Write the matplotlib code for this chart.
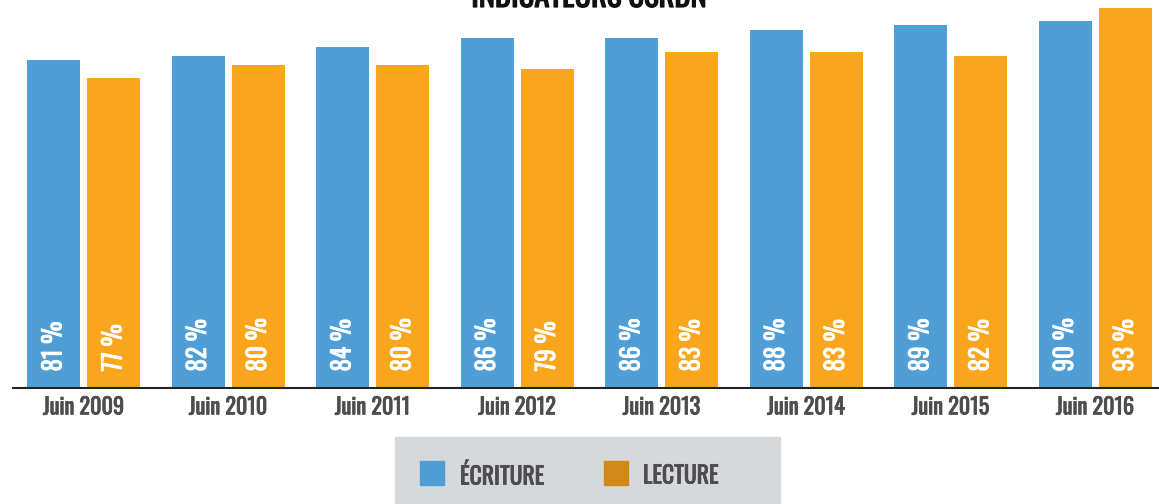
import matplotlib
matplotlib.use("Agg")
import matplotlib.pyplot as plt
import matplotlib.patheffects as pe
from matplotlib.patches import Rectangle
from matplotlib.transforms import blended_transform_factory
import numpy as np

years = ["Juin 2009", "Juin 2010", "Juin 2011", "Juin 2012",
         "Juin 2013", "Juin 2014", "Juin 2015", "Juin 2016"]
ecriture = [81, 82, 84, 86, 86, 88, 89, 90]
lecture = [77, 80, 80, 79, 83, 83, 82, 93]
series_names = ["ÉCRITURE", "LECTURE"]
title = "INDICATEURS CSRDN"

BLUE = "#4F9FD6"
ORANGE = "#F9A61D"
ORANGE_LEG = "#D08818"
GRAY_TXT = "#4D4D4F"

plt.rcParams['font.family'] = ['Oswald', 'Fira Sans Extra Condensed', 'DejaVu Sans']


def bold(color, lw=0.6):
    return [pe.withStroke(linewidth=lw, foreground=color)]


W, H = 1159, 504
fig = plt.figure(figsize=(W / 100, H / 100), dpi=100)
ax = fig.add_axes([13 / W, 116 / H, 1 - 13 / W, 388 / H])

x = np.arange(len(years))
bw = 53 / 144.5
off = 30 / 144.5
ax.bar(x - off, ecriture, width=bw, color=BLUE, zorder=2)
ax.bar(x + off, lecture, width=bw, color=ORANGE, zorder=2)

tr = blended_transform_factory(ax.transData, ax.transAxes)
for xs, vals in ((x - off, ecriture), (x + off, lecture)):
    for xi, v in zip(xs, vals):
        ax.text(xi, 16.5 / 388, f"{v} %", rotation=90, ha="center", va="bottom",
                color="white", fontsize=18, transform=tr,
                path_effects=bold("white", 0.6))

ax.set_xlim(-70.5 / 144.5, 7 + 64 / 144.5)
ax.set_ylim(6.1, 6.1 + 388 / 4.375)
ax.set_xticks(x)
ax.set_xticklabels(years, fontsize=16, color=GRAY_TXT)
for lab in ax.get_xticklabels():
    lab.set_path_effects(bold(GRAY_TXT, 0.6))
ax.tick_params(axis="x", length=0, pad=6)
ax.set_yticks([])
for s in ["top", "right", "left"]:
    ax.spines[s].set_visible(False)
ax.spines["bottom"].set_color("#222222")
ax.spines["bottom"].set_linewidth(1.5)

fig.text(589 / W, 1 - 7 / H, title, ha="center", va="baseline",
         fontsize=22, color="#111111", path_effects=bold("#111111", 0.9))


def fx(px):
    return px / W


def fy(py):
    return 1 - py / H


fig.patches.append(Rectangle((fx(395), fy(504)), fx(780) - fx(395), (504 - 437) / H,
                             transform=fig.transFigure, color="#D7D8DA", zorder=0))
fig.patches.append(Rectangle((fx(420), fy(485)), 24 / W, 24 / H,
                             transform=fig.transFigure, color=BLUE, zorder=1))
fig.patches.append(Rectangle((fx(604), fy(485)), 24 / W, 24 / H,
                             transform=fig.transFigure, color=ORANGE_LEG, zorder=1))
fig.text(fx(460), fy(476), series_names[0], ha="left", va="center",
         fontsize=17, color=GRAY_TXT, path_effects=bold(GRAY_TXT, 0.6))
fig.text(fx(643), fy(476), series_names[1], ha="left", va="center",
         fontsize=17, color=GRAY_TXT, path_effects=bold(GRAY_TXT, 0.6))

fig.savefig("out.png", dpi=100)
